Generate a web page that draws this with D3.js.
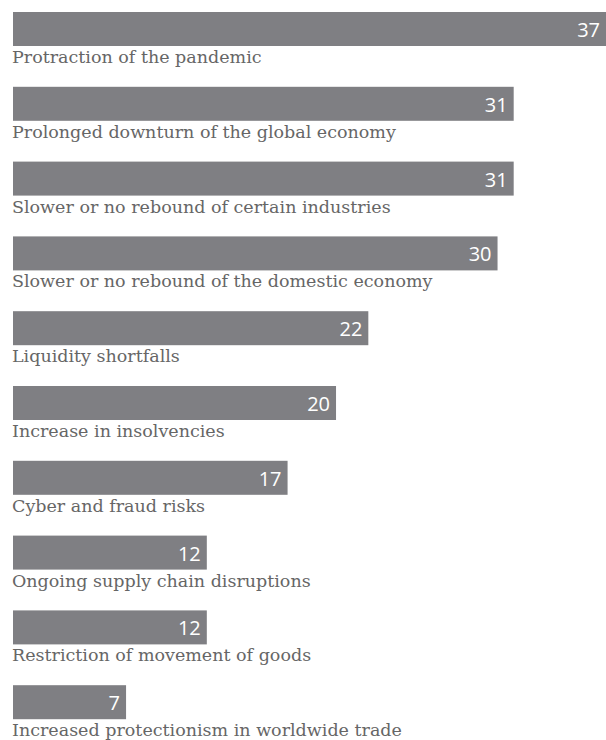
<!DOCTYPE html>
<html lang="en">
    <head>
        <meta charset="utf-8">
        <title>Risks</title>
        <script type="text/javascript" src="https://d3js.org/d3.v7.min.js"></script>
        <style type="text/css">
            body{
                margin: 0;
                background: #fff;
            }
            .label{
                font-family: 'DejaVu Serif', serif;
                font-size: 17.5px;
                fill: #666;
            }
            .value{
                font-family: 'Open Sans', sans-serif;
                font-size: 20px;
                font-weight: 400;
                fill: #fff;
            }
        </style>
    </head>

    <body>
        <script type="text/javascript">
            // chart dimensions
            const svgW = 606;
            const svgH = 740;

            // data
            const categories = ["Protraction of the pandemic", "Prolonged downturn of the global economy",
                                "Slower or no rebound of certain industries", "Slower or no rebound of the domestic economy",
                                "Liquidity shortfalls", "Increase in insolvencies", "Cyber and fraud risks",
                                "Ongoing supply chain disruptions", "Restriction of movement of goods",
                                "Increased protectionism in worldwide trade"];
            const values = [37, 31, 31, 30, 22, 20, 17, 12, 12, 7];

            const dataset = categories.map((c, i) => ({cat: c, val: values[i]}));

            // scales
            const scaleX = d3.scaleLinear()
                            .domain([0, 37])
                            .range([13, 610.6]);
            const scaleY = d3.scaleBand()
                            .domain(categories)
                            .range([12, 719.2])
                            .paddingInner(0.5455)
                            .paddingOuter(0);

            const svg = d3.select("body")
                        .append("svg")
                        .attr("width", svgW)
                        .attr("height", svgH);

            const row = svg.selectAll("g.row")
                .data(dataset)
                .enter()
                .append("g")
                .attr("class", "row");

            // bars
            row.append("rect")
                .attr("x", scaleX(0))
                .attr("y", d => scaleY(d.cat))
                .attr("width", d => scaleX(d.val) - scaleX(0))
                .attr("height", scaleY.bandwidth())
                .attr("fill", "#7f7f83");

            // values inside bars
            row.append("text")
                .attr("class", "value")
                .attr("x", d => Math.min(scaleX(d.val), svgW) - 6)
                .attr("y", d => scaleY(d.cat) + 25)
                .attr("text-anchor", "end")
                .text(d => d.val);

            // category labels under bars
            row.append("text")
                .attr("class", "label")
                .attr("x", 12)
                .attr("y", d => scaleY(d.cat) + scaleY.bandwidth() + 17)
                .text(d => d.cat);
        </script>
    </body>
</html>
